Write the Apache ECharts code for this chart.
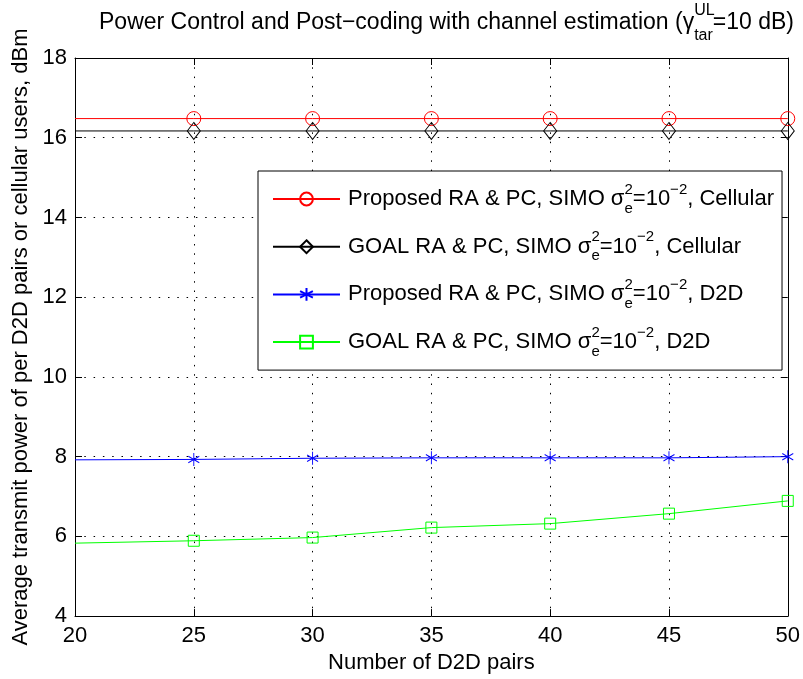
<!DOCTYPE html>
<html>
<head>
<meta charset="utf-8">
<script src="https://cdn.jsdelivr.net/npm/echarts@6/dist/echarts.min.js"></script>
<style>
  html, body { margin: 0; padding: 0; background: #fff; }
  #chart { width: 803px; height: 679px; }
</style>
</head>
<body>
<div id="chart"></div>
<script>
// Number of D2D pairs on the horizontal axis
const d2dPairs = [20, 25, 30, 35, 40, 45, 50];
// Average transmit power (dBm)
const proposedCellular = [16.48, 16.48, 16.48, 16.48, 16.48, 16.48, 16.48];
const goalCellular     = [16.17, 16.17, 16.17, 16.17, 16.17, 16.17, 16.17];
const proposedD2D      = [7.92, 7.93, 7.96, 7.97, 7.97, 7.97, 8.00];
const goalD2D          = [5.83, 5.89, 5.97, 6.22, 6.32, 6.57, 6.89];
// markers are drawn from this x onwards
const firstMarkerX = 25;

const xTicks = { min: 20, max: 50, step: 5 };
const yTicks = { min: 4, max: 18, step: 2 };

const seriesNames = [
  'Proposed RA & PC, SIMO, Cellular',
  'GOAL RA & PC, SIMO, Cellular',
  'Proposed RA & PC, SIMO, D2D',
  'GOAL RA & PC, SIMO, D2D'
];
const legendPrefix = ['Proposed RA & PC, SIMO', 'GOAL RA & PC, SIMO', 'Proposed RA & PC, SIMO', 'GOAL RA & PC, SIMO'];
const legendSuffix = [', Cellular', ', Cellular', ', D2D', ', D2D'];

const FONT = '"Liberation Sans", Arial, Helvetica, sans-serif';
const asterisk = 'path://M0,-1L0,1M-0.866,-0.5L0.866,0.5M-0.866,0.5L0.866,-0.5';

function toData(values) {
  return d2dPairs.map((x, i) => x < firstMarkerX
    ? { value: [x, values[i]], symbol: 'none' }
    : [x, values[i]]);
}

function lineSeries(idx, values, color, symbol, symbolSize) {
  return {
    name: seriesNames[idx],
    type: 'line',
    xAxisIndex: 0,
    yAxisIndex: 0,
    data: toData(values),
    symbol: symbol,
    symbolSize: symbolSize,
    showAllSymbol: true,
    animation: false,
    lineStyle: { color: color, width: 1 },
    itemStyle: { color: 'rgba(0,0,0,0)', borderColor: color, borderWidth: 1 },
    emphasis: { disabled: true }
  };
}

const legendRich = {
  m0: { fontSize: 22, lineHeight: 34, fontFamily: FONT, color: '#000', padding: [0, 0, 0, 3] },
  m:  { fontSize: 22, lineHeight: 34, fontFamily: FONT, color: '#000' },
  sp0: { fontSize: 15, lineHeight: 15, fontFamily: FONT, color: '#000', verticalAlign: 'top', width: 0.01 },
  sp: { fontSize: 15, lineHeight: 15, fontFamily: FONT, color: '#000', verticalAlign: 'top' },
  sb: { fontSize: 15, lineHeight: 6, fontFamily: FONT, color: '#000', verticalAlign: 'bottom' }
};

const chart = echarts.init(document.getElementById('chart'), null, { renderer: 'canvas' });

const axisCommonX = {
  type: 'value',
  min: xTicks.min, max: xTicks.max, interval: xTicks.step,
  axisLine: { show: true, onZero: false, lineStyle: { color: '#000', width: 1 } },
  axisTick: { show: true, inside: true, length: 7, lineStyle: { color: '#000' } }
};
const axisCommonY = {
  type: 'value',
  min: yTicks.min, max: yTicks.max, interval: yTicks.step,
  axisLine: { show: true, onZero: false, lineStyle: { color: '#000', width: 1 } },
  axisTick: { show: true, inside: true, length: 7, lineStyle: { color: '#000' } }
};
const gridDots = { show: true, lineStyle: { color: '#000', width: 1, type: [1.5, 7.8] } };

chart.setOption({
  backgroundColor: '#fff',
  animation: false,
  title: {
    text: '{t|Power Control and Post\u2212coding with channel estimation (\u03b3}{su|UL}{sd|tar}{t|=10 dB)}',
    left: 99,
    top: 2.5,
    padding: 0,
    textStyle: {
      fontFamily: FONT, fontWeight: 'normal', fontSize: 23, color: '#000',
      rich: {
        t: { fontSize: 23, lineHeight: 41, fontFamily: FONT, color: '#000' },
        su: { fontSize: 16, lineHeight: 16, fontFamily: FONT, color: '#000', verticalAlign: 'top', width: 0.01 },
        sd: { fontSize: 16, lineHeight: 30, fontFamily: FONT, color: '#000', verticalAlign: 'bottom' }
      }
    }
  },
  grid: { left: 75, right: 12, top: 58, bottom: 59, show: false },
  legend: {
    orient: 'vertical',
    left: 258,
    top: 171,
    padding: [11, 8, 11, 14],
    itemGap: 13.7,
    itemWidth: 67,
    itemHeight: 16,
    backgroundColor: '#fff',
    borderColor: '#000',
    borderWidth: 1,
    selectedMode: false,
    data: seriesNames,
    formatter: function (name) {
      const i = seriesNames.indexOf(name);
      return '{m0|' + legendPrefix[i] + ' \u03c3}{sp0|2}{sb|e}{m|=10}{sp|\u22122}{m|' + legendSuffix[i] + '}';
    },
    textStyle: { fontFamily: FONT, fontSize: 22, color: '#000', rich: legendRich }
  },
  xAxis: [
    Object.assign({}, axisCommonX, {
      position: 'bottom',
      name: 'Number of D2D pairs',
      nameLocation: 'middle',
      nameGap: 34,
      nameTextStyle: { fontFamily: FONT, fontSize: 22, color: '#000' },
      axisLabel: { show: true, margin: 9, fontFamily: FONT, fontSize: 22, color: '#000' },
      splitLine: gridDots
    }),
    Object.assign({}, axisCommonX, {
      position: 'top',
      axisLabel: { show: false },
      splitLine: { show: false }
    })
  ],
  yAxis: [
    Object.assign({}, axisCommonY, {
      position: 'left',
      name: 'Average transmit power of per D2D pairs or cellular users, dBm',
      nameLocation: 'middle',
      nameGap: 30,
      nameTextStyle: { fontFamily: FONT, fontSize: 22, color: '#000' },
      axisLabel: { show: true, margin: 8, fontFamily: FONT, fontSize: 22, color: '#000' },
      splitLine: gridDots
    }),
    Object.assign({}, axisCommonY, {
      position: 'right',
      axisLabel: { show: false },
      splitLine: { show: false }
    })
  ],
  series: [
    lineSeries(0, proposedCellular, '#ff0000', 'circle', 14),
    lineSeries(1, goalCellular, '#000000', 'diamond', [13, 17]),
    lineSeries(2, proposedD2D, '#0000ff', asterisk, [11, 13]),
    lineSeries(3, goalD2D, '#00ff00', 'rect', 11)
  ]
});
</script>
</body>
</html>
